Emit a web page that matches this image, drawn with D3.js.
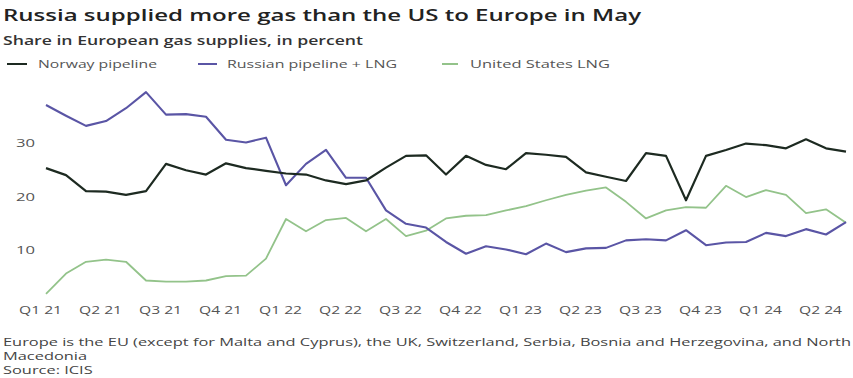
<!DOCTYPE html>
<html>
<head>
<meta charset="utf-8">
<script src="https://cdn.jsdelivr.net/npm/d3@7"></script>
<style>
  body { margin: 0; background: #fff; }
  svg { display: block; font-family: "Open Sans", sans-serif; }
</style>
</head>
<body>
<svg id="chart" width="853" height="378"></svg>
<script>
// Data: monthly share, Jan 2021 .. May 2024
var norway = [25.3,24.0,21.0,20.9,20.3,21.0,26.1,24.9,24.1,26.2,25.3,24.8,24.3,24.1,23.0,22.3,23.0,25.4,27.6,27.7,24.1,27.6,25.9,25.1,28.1,27.8,27.4,24.5,23.7,22.9,28.1,27.6,19.3,27.6,28.7,29.9,29.6,29.0,30.7,29.0,28.4];
var russia = [37.1,35.1,33.2,34.1,36.5,39.5,35.3,35.4,34.9,30.6,30.1,31.0,22.1,26.1,28.7,23.5,23.5,17.4,14.9,14.2,11.5,9.3,10.7,10.1,9.2,11.2,9.6,10.3,10.4,11.8,12.0,11.8,13.7,10.9,11.4,11.5,13.2,12.6,13.9,12.9,15.2];
var usLng = [1.8,5.6,7.8,8.2,7.8,4.3,4.1,4.1,4.3,5.1,5.2,8.4,15.8,13.5,15.6,16.0,13.5,15.8,12.6,13.6,15.9,16.4,16.5,17.4,18.2,19.3,20.3,21.1,21.7,19.0,15.9,17.4,18.0,17.9,22.0,19.9,21.2,20.3,16.9,17.6,15.1];
var quarterLabels = ["Q1 21","Q2 21","Q3 21","Q4 21","Q1 22","Q2 22","Q3 22","Q4 22","Q1 23","Q2 23","Q3 23","Q4 23","Q1 24","Q2 24"];
var yTicks = [10, 20, 30];
var seriesNames = ["Norway pipeline", "Russian pipeline + LNG", "United States LNG"];
var footnotes = ["Europe is the EU (except for Malta and Cyprus), the UK, Switzerland, Serbia, Bosnia and Herzegovina, and North",
                 "Macedonia", "Source: ICIS"];

var colors = ["#1d2a21", "#5a55a5", "#93c38a"];
var widths = [2.2, 2.1, 1.8];

var svg = d3.select("#chart");

// Scales
var x = d3.scaleLinear().domain([0, norway.length - 1]).range([46, 846]);
var y = d3.scaleLinear().domain([0, 40]).range([303.5, 89.5]);

// Titles (image is stretched horizontally, so fit text to width)
svg.append("text").attr("x", 3).attr("y", 21)
    .attr("font-size", 16).attr("font-weight", 600).attr("fill", "#222")
    .attr("textLength", 638).attr("lengthAdjust", "spacingAndGlyphs")
    .text("Russia supplied more gas than the US to Europe in May");

svg.append("text").attr("x", 3).attr("y", 44.5)
    .attr("font-size", 12.5).attr("font-weight", 600).attr("fill", "#333")
    .attr("textLength", 360).attr("lengthAdjust", "spacingAndGlyphs")
    .text("Share in European gas supplies, in percent");

// Legend
var legendPos = [{sx: 7, sw: 20, tx: 38, tw: 119},
                 {sx: 198, sw: 19, tx: 227, tw: 170},
                 {sx: 442, sw: 16, tx: 470, tw: 140}];
seriesNames.forEach(function (name, i) {
    var p = legendPos[i];
    svg.append("line").attr("x1", p.sx).attr("x2", p.sx + p.sw)
        .attr("y1", 64).attr("y2", 64)
        .attr("stroke", colors[i]).attr("stroke-width", 2);
    svg.append("text").attr("x", p.tx).attr("y", 68)
        .attr("font-size", 11).attr("fill", "#555")
        .attr("textLength", p.tw).attr("lengthAdjust", "spacingAndGlyphs")
        .text(name);
});

// Y axis labels
var yAxis = svg.append("g").attr("transform", "translate(35,0)")
    .call(d3.axisLeft(y).tickValues(yTicks).tickSize(0).tickPadding(0));
yAxis.select(".domain").remove();
yAxis.selectAll("text")
    .attr("font-family", "'Open Sans', sans-serif")
    .attr("font-size", 11.5).attr("fill", "#555")
    .attr("textLength", 19).attr("lengthAdjust", "spacingAndGlyphs");

// X axis labels
var xAxis = svg.append("g").attr("transform", "translate(-6,306)")
    .call(d3.axisBottom(x)
        .tickValues(d3.range(0, norway.length, 3))
        .tickFormat(function (d) { return quarterLabels[d / 3]; })
        .tickSize(0).tickPadding(0));
xAxis.select(".domain").remove();
xAxis.selectAll("text")
    .attr("font-family", "'Open Sans', sans-serif")
    .attr("font-size", 11).attr("fill", "#555")
    .attr("textLength", 43).attr("lengthAdjust", "spacingAndGlyphs");

// Lines
var line = d3.line()
    .x(function (d, i) { return x(i); })
    .y(function (d) { return y(d); });

[usLng, russia, norway].forEach(function (series, j) {
    var i = 2 - j;
    svg.append("path").datum(series)
        .attr("fill", "none")
        .attr("stroke", colors[i])
        .attr("stroke-width", widths[i])
        .attr("stroke-linejoin", "round")
        .attr("d", line);
});

// Footnote: same horizontal stretch on every line, fit from the first one
var noteNodes = footnotes.map(function (t, i) {
    return svg.append("text").attr("x", 3).attr("y", 346 + i * 14)
        .attr("font-size", 10.5).attr("fill", "#444")
        .text(t);
});
var stretch = 848 / noteNodes[0].node().getComputedTextLength();
noteNodes.forEach(function (n) {
    n.attr("textLength", n.node().getComputedTextLength() * stretch)
        .attr("lengthAdjust", "spacingAndGlyphs");
});
</script>
</body>
</html>
